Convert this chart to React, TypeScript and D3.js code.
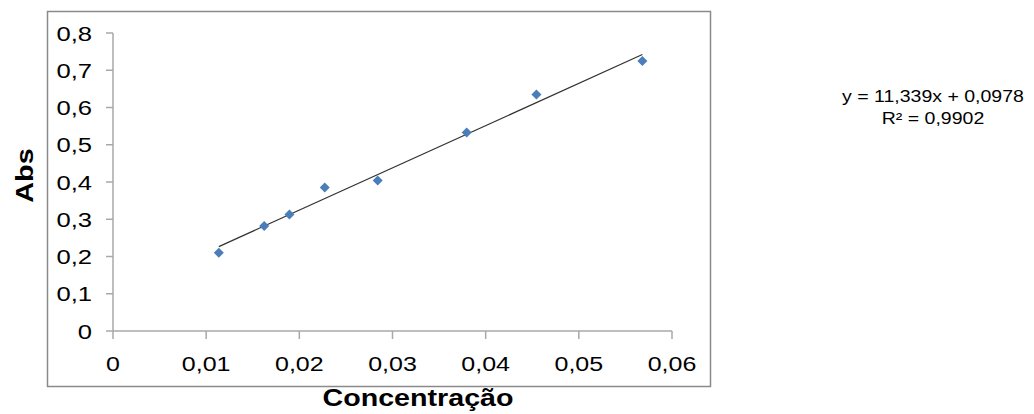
import React from "react";
import * as d3 from "d3";

const concentrations = [0.01136, 0.01623, 0.01894, 0.02273, 0.02841, 0.03796, 0.04545, 0.05682];
const absorbances = [0.210, 0.282, 0.313, 0.385, 0.404, 0.533, 0.635, 0.725];
const xTicks = [0, 0.01, 0.02, 0.03, 0.04, 0.05, 0.06];
const yTicks = [0, 0.1, 0.2, 0.3, 0.4, 0.5, 0.6, 0.7, 0.8];
const slope = 11.339;
const intercept = 0.0978;
const equationLines = ["y = 11,339x + 0,0978", "R² = 0,9902"];
const xTitle = "Concentração";
const yTitle = "Abs";

const W = 1034;
const H = 414;
const FONT = "'Liberation Sans', Arial, Helvetica, sans-serif";
const SX = 1.22;

const fmt = (v: number) => (v === 0 ? "0" : String(+v.toFixed(2)).replace(".", ","));

export default function App() {
  const x = d3.scaleLinear().domain([0, 0.06]).range([113, 672]);
  const y = d3.scaleLinear().domain([0, 0.8]).range([331, 33]);
  const xMin = d3.min(concentrations) as number;
  const xMax = d3.max(concentrations) as number;
  const line = d3
    .line<number>()
    .x((d) => x(d))
    .y((d) => y(slope * d + intercept));
  const diamond = "M0,-5L5,0L0,5L-5,0Z";
  const axisColor = "#a8a8a8";

  return (
    <svg
      width={W}
      height={H}
      style={{ position: "absolute", left: 0, top: 0, background: "#fff" }}
      fontFamily={FONT}
    >
      <rect x={47.5} y={11.5} width={663} height={375} fill="#fff" stroke="#8a8a8a" strokeWidth={1.5} />
      {/* axes */}
      <line x1={x(0)} x2={x(0.06)} y1={y(0)} y2={y(0)} stroke={axisColor} strokeWidth={1.5} />
      <line x1={x(0)} x2={x(0)} y1={y(0)} y2={y(0.8)} stroke={axisColor} strokeWidth={1.5} />
      {yTicks.map((t) => (
        <g key={"y" + t}>
          <line x1={x(0) - 7} x2={x(0)} y1={y(t)} y2={y(t)} stroke={axisColor} strokeWidth={1.5} />
          <text
            transform={`translate(92,${y(t) + 7.5}) scale(${SX},1)`}
            textAnchor="end"
            fontSize={21}
            fill="#000"
          >
            {fmt(t)}
          </text>
        </g>
      ))}
      {xTicks.map((t) => (
        <g key={"x" + t}>
          <line x1={x(t)} x2={x(t)} y1={y(0)} y2={y(0) + 8} stroke={axisColor} strokeWidth={1.5} />
          <text
            transform={`translate(${x(t)},371) scale(${SX},1)`}
            textAnchor="middle"
            fontSize={20.5}
            fill="#000"
          >
            {fmt(t)}
          </text>
        </g>
      ))}
      {/* trendline */}
      <path d={line([xMin, xMax]) || ""} stroke="#333" strokeWidth={1.2} fill="none" />
      {/* points */}
      {concentrations.map((c, i) => (
        <path
          key={"p" + i}
          d={diamond}
          transform={`translate(${x(c)},${y(absorbances[i])})`}
          fill="#4a7ebb"
        />
      ))}
      {/* equation */}
      {equationLines.map((s, i) => (
        <text
          key={"eq" + i}
          transform={`translate(933,${102 + i * 22}) scale(${SX},1)`}
          textAnchor="middle"
          fontSize={16}
          fill="#000"
        >
          {s}
        </text>
      ))}
      {/* titles */}
      <text
        transform={`translate(418,406) scale(${SX},1)`}
        textAnchor="middle"
        fontSize={23.5}
        fontWeight="bold"
        fill="#000"
      >
        {xTitle}
      </text>
      <text
        transform={`translate(33,175.5) rotate(-90) scale(1.25,1)`}
        textAnchor="middle"
        fontSize={23}
        fontWeight="bold"
        fill="#000"
      >
        {yTitle}
      </text>
    </svg>
  );
}
